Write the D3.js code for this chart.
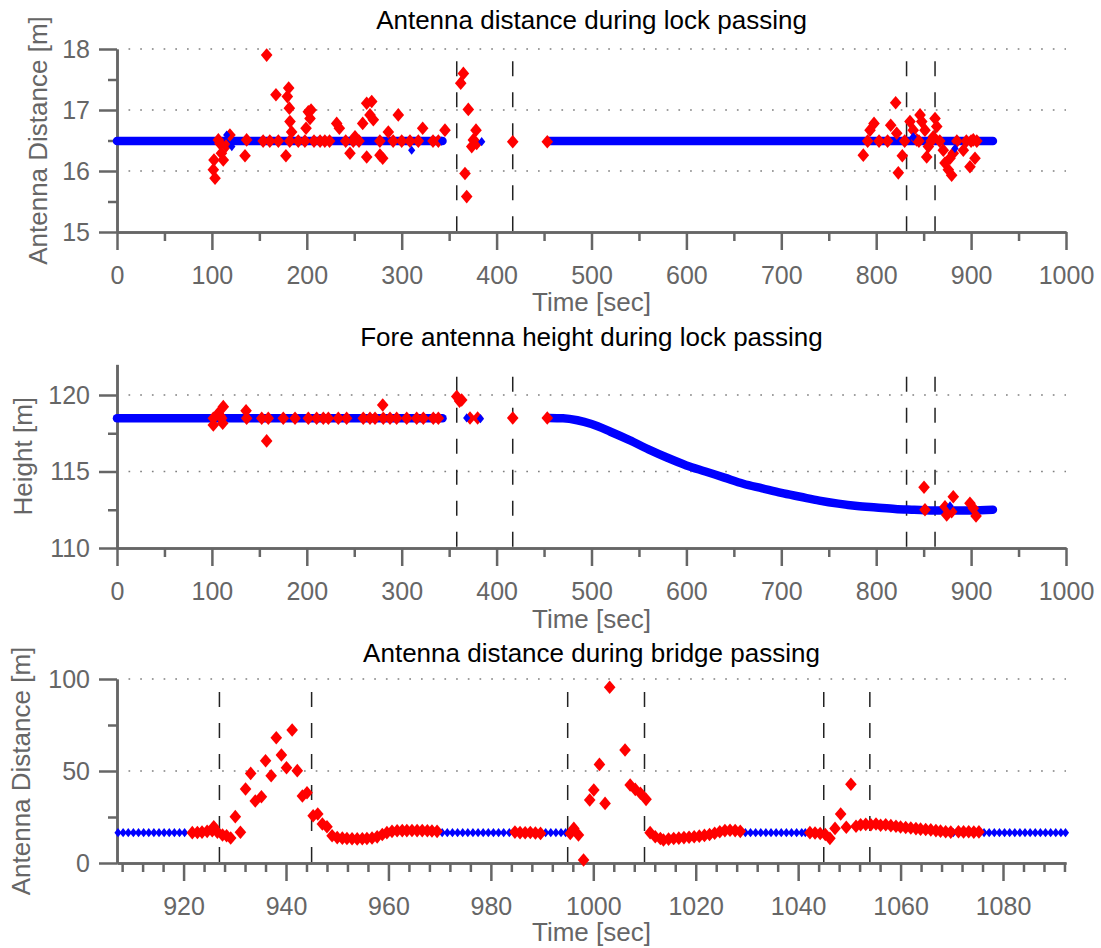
<!DOCTYPE html>
<html>
<head>
<meta charset="utf-8">
<script src="https://cdn.jsdelivr.net/npm/d3@7"></script>
<style>
body{margin:0;background:#fff}
svg{display:block;font-family:"Liberation Sans",Arial,Helvetica,sans-serif}
.axis path,.axis line{stroke:#666;stroke-width:2.5}
.axis text{fill:#666;font-size:25px;font-family:"Liberation Sans",Arial,sans-serif}
</style>
</head>
<body>
<svg width="1101" height="948"></svg>
<script>
// ---- tick values ----
var lockXTicks=[0,100,200,300,400,500,600,700,800,900,1000]
var lockXMinor=[50,150,250,350,450,550,650,750,850,950]
var distYTicks=[15,16,17,18]
var distYMinor=[15.5,16.5,17.5]
var heightYTicks=[110,115,120]
var heightYMinor=[112.5,117.5]
var bridgeXTicks=[920,940,960,980,1000,1020,1040,1060,1080]
var bridgeXMinor=[908,912,916,924,928,932,936,944,948,952,956,964,968,972,976,984,988,992,996,1004,1008,1012,1016,1024,1028,1032,1036,1044,1048,1052,1056,1064,1068,1072,1076,1084,1088,1092]
var bridgeYTicks=[0,50,100]
var bridgeYMinor=[25,75]

// ---- event markers (sec) ----
var lockDashes=[358,417,832,862]
var bridgeDashes=[927,945,995,1010,1045,1054]

// ---- panel 1: antenna distance, lock ----
var distBlueBand=[
 [[0,16.49],[50,16.49],[100,16.49],[150,16.49],[200,16.49],[250,16.49],[300,16.49],[343,16.49]],
 [[455,16.49],[500,16.49],[600,16.49],[700,16.49],[800,16.49],[900,16.49],[923,16.49]]
]
var distBlueDots=[[115.6,16.59],[121,16.40],[310.5,16.34],[342,16.49],[384.3,16.48],[839,16.56],[883,16.37]]
var distRed=[
 [101.5,16.02],[102.2,16.18],[103.3,15.88],[106.8,16.51],[108.5,16.45],[110,16.29],[112,16.18],[114.9,16.41],[119,16.59],
 [134.9,16.25],[136.6,16.51],[154,16.49],[157.7,17.9],[161,16.49],[167.5,17.25],[170,16.49],[178,16.25],[179.5,17.22],
 [180.9,17.36],[181.6,17.03],[182.3,16.81],[184,16.64],[182,16.49],[191,16.49],[198,16.49],[199.2,16.7],[201.6,16.97],
 [203.4,16.86],[204.5,17.0],[207.6,16.49],[214,16.49],[219,16.49],[224,16.49],[231.5,16.78],[234.3,16.7],[241,16.49],
 [245.5,16.29],[249,16.49],[250.8,16.56],[255,16.49],[258.9,16.78],[263.1,17.11],[263.1,16.23],[266.6,16.92],[268.4,17.14],
 [270.1,16.84],[277,16.49],[277.1,16.26],[280,16.21],[285.9,16.64],[291,16.49],[296.4,16.92],[300,16.49],[308.7,16.49],
 [317.5,16.49],[322.1,16.7],[333,16.49],[338.6,16.49],[345.6,16.67],
 [362.2,17.44],[365,17.6],[366.7,15.96],[368.5,15.58],[370.2,17.01],[373.8,16.40],[375.5,16.51],[378.3,16.67],[379,16.45],
 [417,16.48],[453.4,16.48],
 [786.4,16.26],[791,16.49],[793.5,16.67],[797.7,16.78],[803,16.49],[812,16.49],[815.3,16.75],[820.5,17.12],[821.6,16.62],
 [823.3,15.97],[827.5,16.25],[830,16.49],[835.6,16.81],[839,16.67],[842.7,16.51],[845,16.49],[846.2,16.92],[848,16.81],
 [851.4,16.67],[853.2,16.23],[855,16.40],[858,16.49],[860.2,16.56],[862,16.86],[863.8,16.73],[867,16.49],[870.7,16.34],
 [872.5,16.13],[876,16.02],[877.8,16.21],[879.5,15.93],[881.2,16.29],[885,16.49],[891.8,16.34],[895,16.49],[898.8,16.07],
 [900,16.49],[902.3,16.51],[904.1,16.21],[906,16.49]
]

// ---- panel 2: fore antenna height, lock ----
var heightBlueBand=[
 [[0,118.48],[50,118.48],[100,118.48],[150,118.48],[200,118.48],[250,118.48],[300,118.48],[343,118.48]],
 [[455,118.5],[470,118.48],[485,118.35],[500,118.1],[520,117.6],[540,117.05],[560,116.45],[580,115.9],[600,115.4],[620,115.0],
  [640,114.6],[660,114.2],[680,113.9],[700,113.6],[720,113.35],[740,113.1],[760,112.9],[780,112.75],[800,112.65],
  [820,112.55],[840,112.5],[860,112.45],[880,112.45],[900,112.45],[923,112.5]]
]
var heightBlueDots=[[368.5,118.5],[383,118.45],[877.8,112.75]]
var heightRed=[
 [101.5,118.04],[101.5,118.48],[106.8,118.8],[109,118.6],[110.3,118.48],[111.4,118.15],[112,119.24],[136,118.97],[136.6,118.48],
 [152.5,118.48],[157.7,117.0],[159.4,118.48],[175.2,118.48],[187.6,118.48],[201.6,118.48],[210.4,118.48],[217.4,118.48],
 [222.7,118.48],[233.2,118.48],[242,118.48],[259.5,118.48],[266.6,118.48],[271.9,118.48],[280,119.35],[280.6,118.48],
 [287.7,118.48],[294.7,118.48],[305.3,118.48],[315.8,118.48],[322.8,118.48],[333.3,118.48],[338.6,118.48],
 [358,119.9],[361,119.6],[363.2,119.67],[372,118.5],[380,118.5],[417,118.5],[453.4,118.5],
 [850.4,113.97],[851.4,112.5],[872.5,112.7],[874.3,112.16],[879.5,112.37],[881.2,113.35],[898.8,112.92],[902.3,112.6],[905.2,112.09]
]

// ---- panel 3: antenna distance, bridge ----
var bridgeBlue=[
 [907.2,16.5],[908.2,16.5],[909.2,16.5],[910.2,16.5],[911.2,16.5],[912.2,16.5],[913.2,16.5],[914.2,16.5],[915.2,16.5],
 [916.2,16.5],[917.2,16.5],[918.2,16.5],[919.2,16.5],[920.2,16.5],
 [970.5,16.5],[971.5,16.5],[972.5,16.5],[973.5,16.5],[974.5,16.5],[975.5,16.5],[976.5,16.5],[977.5,16.5],[978.5,16.5],
 [979.5,16.5],[980.5,16.5],[981.5,16.5],[982.5,16.5],[983.6,16.5],
 [990.7,16.5],[991.7,16.5],[992.7,16.5],[993.7,16.5],[994.6,16.5],
 [1029.7,16.5],[1030.7,16.5],[1031.7,16.5],[1032.7,16.5],[1033.7,16.5],[1034.7,16.5],[1035.7,16.5],[1036.7,16.5],
 [1037.7,16.5],[1038.7,16.5],[1039.7,16.5],[1040.7,16.5],[1041.4,16.5],
 [1070.3,16.5],
 [1076.3,16.5],[1077.3,16.5],[1078.3,16.5],[1079.3,16.5],[1080.3,16.5],[1081.3,16.5],[1082.3,16.5],[1083.3,16.5],
 [1084.3,16.5],[1085.3,16.5],[1086.3,16.5],[1087.3,16.5],[1088.3,16.5],[1089.3,16.5],[1090.3,16.5],[1091.3,16.5],[1092.2,16.5]
]
var bridgeRed=[
 [921.7,16.5],[922.7,16.6],[923.6,16.8],[924.6,17.2],[925.6,17.5],[925.9,19.7],[926.6,16.8],[927.6,15.2],[928.4,14.8],
 [929.2,13.6],[930.1,25.2],[931.1,16.7],[932.1,40.2],[933.1,48.7],[934.0,33.7],[935.2,36],[936.0,55.6],[937.1,47.4],
 [938.1,68.1],[939.1,58.7],[940.1,51.8],[941.2,72.3],[942.2,50.2],[943.2,36.4],[944.1,38.2],[945.3,25.7],[946.2,26.6],
 [947.1,21.2],[948.0,19.7],[949.0,14.8],[950.0,13.8],[951.0,13.5],[951.9,13.3],[952.9,13.2],[953.9,13.1],[954.9,13.2],
 [955.8,13.3],[956.8,13.6],[957.8,14.2],[958.8,15.5],[959.7,16.5],[960.7,17.2],[961.7,17.5],[962.7,17.6],[963.6,17.6],
 [964.6,17.7],[965.6,17.6],[966.6,17.6],[967.6,17.5],[968.5,17.4],[969.5,17.2],
 [984.7,16.8],[985.7,16.5],[986.7,16.4],[987.7,16.6],[988.7,16.3],[989.7,16.1],
 [995.5,16.1],[996.2,18.8],[997.1,15.2],[998.1,1.6],[999.3,34.2],[1000.1,39.7],[1001.2,53.6],[1002.3,32.4],[1003.2,95.5],
 [1006.2,61.4],[1007.2,42.4],[1008.2,40],[1009.2,37.9],[1010.3,34.6],[1011.1,16.5],[1012.1,14.3],[1013.1,13.3],[1013.7,12.5],
 [1014.7,13.0],[1015.7,13.3],[1016.7,13.5],[1017.7,13.8],[1018.7,14.0],[1019.7,14.3],[1020.7,14.6],[1021.7,15.0],
 [1022.7,15.5],[1023.7,16.2],[1024.7,17.0],[1025.7,17.6],[1026.7,17.8],[1027.7,17.6],[1028.7,17.2],
 [1042.3,16.5],[1043.3,16.3],[1044.3,16.0],[1045.3,15.5],[1046.2,13.4],[1047.2,18.8],[1048.3,26.6],[1049.4,19.4],
 [1050.3,42.8],[1051.3,20.0],[1052.2,20.8],[1053.2,21.0],[1054.2,20.8],[1055.2,21.2],[1056.1,20.5],[1057.1,20.8],
 [1058.1,20.3],[1059.1,20.0],[1060.0,19.6],[1061.0,19.3],[1062.0,19.0],[1063.0,18.7],[1063.9,18.4],[1064.9,18.2],
 [1065.9,18.0],[1066.9,17.6],[1067.8,17.3],[1068.8,17.0],[1069.8,16.8],
 [1071.3,17.0],[1072.3,16.9],[1073.3,17.0],[1074.3,16.8],[1075.3,16.9]
]

var svg=d3.select("svg")
var left=117, right=1066

var panels=[
 {title:"Antenna distance during lock passing", ylabel:"Antenna Distance [m]",
  top:49, bottom:232, xdom:[0,1000], ydom:[15,18], dashTop:17.8,
  xticks:lockXTicks, xminor:lockXMinor, yticks:distYTicks, yminor:distYMinor,
  band:distBlueBand, blue:[], dots:distBlueDots, red:distRed, dashes:lockDashes,
  titleY:29, xlabY:311, ylabX:38},
 {title:"Fore antenna height during lock passing", ylabel:"Height [m]",
  top:364.4, bottom:548, xdom:[0,1000], ydom:[110,122], dashTop:121.2,
  xticks:lockXTicks, xminor:lockXMinor, yticks:heightYTicks, yminor:heightYMinor,
  band:heightBlueBand, blue:[], dots:heightBlueDots, red:heightRed, dashes:lockDashes,
  titleY:346, xlabY:628, ylabX:23},
 {title:"Antenna distance during bridge passing", ylabel:"Antenna Distance [m]",
  top:679, bottom:863, xdom:[907,1092.3], ydom:[0,100], dashTop:93,
  xticks:bridgeXTicks, xminor:bridgeXMinor, yticks:bridgeYTicks, yminor:bridgeYMinor,
  band:[], blue:bridgeBlue, dots:[], red:bridgeRed, dashes:bridgeDashes,
  titleY:662, xlabY:941, ylabX:21}
]

function diamond(w,h){
	return "M0,"+(-h)+"L"+w+",0L0,"+h+"L"+(-w)+",0Z"
}

panels.forEach(function(p)
{
	var x=d3.scaleLinear().domain(p.xdom).range([left,right])
	var y=d3.scaleLinear().domain(p.ydom).range([p.bottom,p.top])
	var g=svg.append("g")

	// dotted grid at major y ticks
	g.selectAll(".grid")
	.data(p.yticks.filter(d=>d!==p.ydom[0]))
	.join("line")
	.attr("x1",left+11.5).attr("x2",right)
	.attr("y1",d=>y(d)).attr("y2",d=>y(d))
	.attr("stroke","#808080")
	.attr("stroke-width",1.7)
	.attr("stroke-dasharray","1.7,10")

	// event lines
	g.selectAll(".dash")
	.data(p.dashes)
	.join("line")
	.attr("x1",d=>x(d)).attr("x2",d=>x(d))
	.attr("y1",y(p.dashTop)).attr("y2",y(p.ydom[0]))
	.attr("stroke","#222")
	.attr("stroke-width",1.5)
	.attr("stroke-dasharray","15,16")

	// axes
	g.append("g").attr("class","axis")
	.attr("transform","translate(0,"+p.bottom+")")
	.call(d3.axisBottom(x).tickValues(p.xminor).tickSize(9).tickSizeOuter(0).tickFormat(""))
	g.append("g").attr("class","axis")
	.attr("transform","translate(0,"+p.bottom+")")
	.call(d3.axisBottom(x).tickValues(p.xticks).tickSize(18).tickPadding(16).tickSizeOuter(0).tickFormat(d3.format("d")))
	g.append("g").attr("class","axis")
	.attr("transform","translate("+left+",0)")
	.call(d3.axisLeft(y).tickValues(p.yminor).tickSize(9).tickSizeOuter(0).tickFormat(""))
	g.append("g").attr("class","axis")
	.attr("transform","translate("+left+",0)")
	.call(d3.axisLeft(y).tickValues(p.yticks).tickSize(18).tickPadding(9).tickSizeOuter(0).tickFormat(d3.format("d")))

	// valid samples (blue)
	var line=d3.line().curve(d3.curveMonotoneX).x(d=>x(d[0])).y(d=>y(d[1]))
	g.selectAll(".band")
	.data(p.band)
	.join("path")
	.attr("d",line)
	.attr("fill","none")
	.attr("stroke","#0000ff")
	.attr("stroke-width",8.5)
	.attr("stroke-linecap","round")
	.attr("stroke-linejoin","round")

	g.selectAll(".blue")
	.data(p.blue)
	.join("path")
	.attr("transform",d=>"translate("+x(d[0])+","+y(d[1])+")")
	.attr("d",diamond(3.6,4.6))
	.attr("fill","#0000ff")

	// flagged samples (red)
	g.selectAll(".red")
	.data(p.red)
	.join("path")
	.attr("transform",d=>"translate("+x(d[0])+","+y(d[1])+")")
	.attr("d",diamond(5.8,6.8))
	.attr("fill","#ff0000")

	g.selectAll(".dot")
	.data(p.dots)
	.join("path")
	.attr("transform",d=>"translate("+x(d[0])+","+y(d[1])+")")
	.attr("d",diamond(3.6,4.6))
	.attr("fill","#0000ff")

	// labels
	svg.append("text")
	.attr("x",(left+right)/2)
	.attr("y",p.titleY)
	.style("text-anchor","middle")
	.style("font-size","26px")
	.attr("fill","#000")
	.text(p.title)

	svg.append("text")
	.attr("x",(left+right)/2)
	.attr("y",p.xlabY)
	.style("text-anchor","middle")
	.style("font-size","26px")
	.attr("fill","#666")
	.text("Time [sec]")

	svg.append("text")
	.attr("transform","translate("+p.ylabX+","+(p.top+p.bottom)/2+") rotate(-90)")
	.attr("dy","0.36em")
	.style("text-anchor","middle")
	.style("font-size","26px")
	.attr("fill","#666")
	.text(p.ylabel)
})
</script>
</body>
</html>
